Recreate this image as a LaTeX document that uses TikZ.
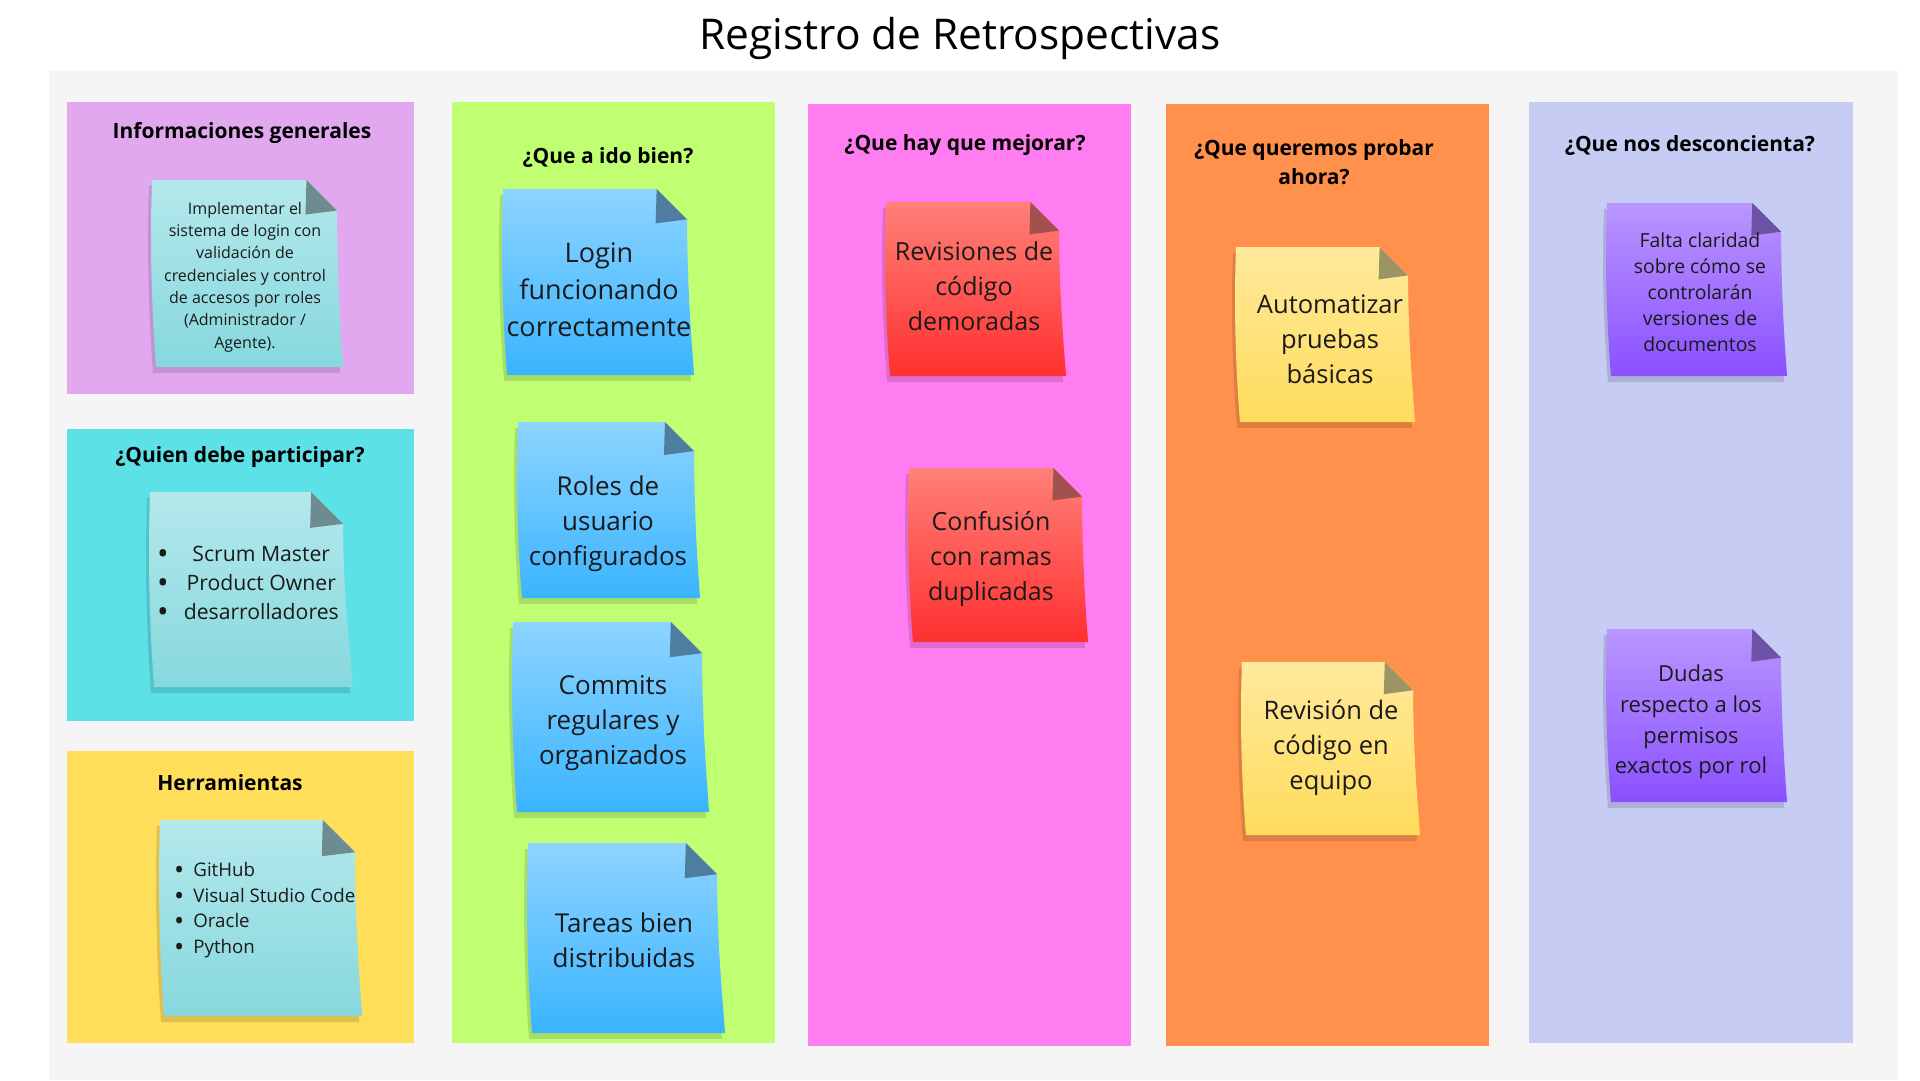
\documentclass[tikz,border=0pt]{standalone}
\usepackage{fontspec}
\setmainfont{Open Sans}
\definecolor{bgrey}{HTML}{F5F5F5}
\definecolor{pPurple}{HTML}{E1A8EF}
\definecolor{pCyan}{HTML}{5CE1E6}
\definecolor{pYellow}{HTML}{FFDE59}
\definecolor{pGreen}{HTML}{C1FF72}
\definecolor{pPink}{HTML}{FF7DF0}
\definecolor{pOrange}{HTML}{FF914D}
\definecolor{pLav}{HTML}{C6CCF4}
\definecolor{tealT}{HTML}{B4E8EC}
\definecolor{tealB}{HTML}{86D8DD}
\definecolor{tealF}{HTML}{6E8B8F}
\definecolor{blueT}{HTML}{8DD4FF}
\definecolor{blueB}{HTML}{3AB4FF}
\definecolor{blueF}{HTML}{4E7DA0}
\definecolor{redT}{HTML}{FF8078}
\definecolor{redB}{HTML}{FF3030}
\definecolor{redF}{HTML}{A2514F}
\definecolor{yelT}{HTML}{FFE99C}
\definecolor{yelB}{HTML}{FFDC5B}
\definecolor{yelF}{HTML}{9C9462}
\definecolor{purT}{HTML}{B996FF}
\definecolor{purB}{HTML}{8B50FF}
\definecolor{purF}{HTML}{6E52A6}
\definecolor{ink}{HTML}{1A1A1A}
\newcommand{\bul}{\raisebox{-0.17em}{\scalebox{1.45}{\textbullet}}}
% x, y, width, height, colour set, bottom-right overhang
\newcommand{\stickynote}[6]{%
  \pgfmathsetmacro\nf{0.165*#3}%
  \pgfmathsetmacro\xF{#1+#3-\nf}%
  \pgfmathsetmacro\xR{#1+#3}%
  \pgfmathsetmacro\yF{#2+\nf}%
  \pgfmathsetmacro\xBR{#1+#3+#6}%
  \pgfmathsetmacro\xBL{#1+4}%
  \pgfmathsetmacro\yB{#2+#4}%
  \pgfmathsetmacro\cRa{\yF+0.5*(\yB-\yF)}%
  \pgfmathsetmacro\cRb{\yB-0.2*(\yB-\yF)}%
  \pgfmathsetmacro\cLa{\yB-0.35*#4}%
  \pgfmathsetmacro\cLb{#2+0.3*#4}%
  \def\notepath{(#1,#2) -- (\xF,#2) -- (\xR,\yF) .. controls (\xR+0.5,\cRa) and (\xBR-2,\cRb) .. (\xBR,\yB) -- (\xBL,\yB) .. controls (#1-1,\cLa) and (#1-2,\cLb) .. (#1,#2) -- cycle}%
  \fill[black,opacity=0.13,shift={(-3,6)}] \notepath;
  \shade[top color=#5T,bottom color=#5B] \notepath;
  \fill[#5F] (\xF,#2) -- (\xR,\yF) -- (\xF-1,\yF+4) -- cycle;
}
\tikzset{
  head/.style={font=\fontsize{21}{29}\selectfont\bfseries, text=black, inner sep=0pt, align=center},
  ntext/.style={align=center, inner sep=0pt, text=ink},
  bluetext/.style={ntext, font=\fontsize{26}{35}\selectfont},
  redtext/.style={ntext, font=\fontsize{25}{35}\selectfont},
  yeltext/.style={ntext, font=\fontsize{25.5}{35}\selectfont},
}
\begin{document}
\begin{tikzpicture}[x=1pt,y=-1pt]
\useasboundingbox (0,0) rectangle (1920,1080);
\fill[white] (0,0) rectangle (1920,1080);
\fill[bgrey] (49,71) rectangle (1898,1080);
% panels
\fill[pPurple] (67,102) rectangle (414,394);
\fill[pCyan] (67,429) rectangle (414,721);
\fill[pYellow] (67,751) rectangle (414,1043);
\fill[pGreen] (452,102) rectangle (775,1043);
\fill[pPink] (808,104) rectangle (1131,1046);
\fill[pOrange] (1166,104) rectangle (1489,1046);
\fill[pLav] (1529,102) rectangle (1853,1043);
% title
\node[font=\fontsize{42.4}{50}\selectfont, text=black, inner sep=0pt] (title) at (960,38) {Registro de Retrospectivas};
% headings
\node[head] (h1) at (242,133) {Informaciones generales};
\node[head] (h2) at (240,457) {¿Quien debe participar?};
\node[head] (h3) at (230,783) {Herramientas};
\node[head] (h4) at (608,158) {¿Que a ido bien?};
\node[head] (h5) at (965,145) {¿Que hay que mejorar?};
\node[head] (h6) at (1314,162) {¿Que queremos probar\\ahora?};
\node[head] (h7) at (1690,146) {¿Que nos desconcienta?};
% notes
\stickynote{152}{180}{185}{187}{teal}{6}
\stickynote{150}{492}{193}{195}{teal}{10}
\stickynote{160}{820}{195}{196}{teal}{7}
\stickynote{503}{189}{184}{186}{blue}{7}
\stickynote{518}{422}{176}{176}{blue}{6}
\stickynote{513}{622}{189}{190}{blue}{7}
\stickynote{528}{843}{189}{190}{blue}{8}
\stickynote{886}{202}{173}{174}{red}{7}
\stickynote{909}{468}{173}{174}{red}{6}
\stickynote{1236}{247}{172}{175}{yel}{7}
\stickynote{1242}{662}{171}{173}{yel}{7}
\stickynote{1607}{203}{174}{173}{pur}{6}
\stickynote{1607}{629}{174}{173}{pur}{6}
% note texts
\node[ntext, font=\fontsize{16}{22.3}\selectfont] (info) at (245,277) {Implementar el\\sistema de login con\\validación de\\credenciales y control\\de accesos por roles\\(Administrador /\\Agente).};
\node[ntext, font=\fontsize{21.2}{29}\selectfont] (who) at (248,584.5) {\begin{tabular}{@{}c@{\hspace{15pt}}c@{}}\bul & Scrum Master\\ \bul & Product Owner\\ \bul & desarrolladores\end{tabular}};
\node[ntext, align=left, anchor=west, font=\fontsize{18.7}{25.7}\selectfont] (tools) at (174,910) {\bul\hspace{9pt}GitHub\\\bul\hspace{9pt}Visual Studio Code\\\bul\hspace{9pt}Oracle\\\bul\hspace{9pt}Python};
\node[bluetext, font=\fontsize{27}{37}\selectfont] (b1) at (599,290) {Login\\funcionando\\correctamente};
\node[bluetext] (b2) at (608,524) {Roles de\\usuario\\configurados};
\node[bluetext] (b3) at (613,723) {Commits\\regulares y\\organizados};
\node[bluetext] (b4) at (624,940) {Tareas bien\\distribuidas};
\node[redtext] (r1) at (974,286) {Revisiones de\\código\\demoradas};
\node[redtext] (r2) at (991,559) {Confusión\\con ramas\\duplicadas};
\node[yeltext] (y1) at (1330,339) {Automatizar\\pruebas\\básicas};
\node[yeltext] (y2) at (1331,748) {Revisión de\\código en\\equipo};
\node[ntext, font=\fontsize{19.4}{26}\selectfont] (u1) at (1700,292) {Falta claridad\\sobre cómo se\\controlarán\\versiones de\\documentos};
\node[ntext, font=\fontsize{22}{30.6}\selectfont] (u2) at (1691,722) {Dudas\\respecto a los\\permisos\\exactos por rol};
\end{tikzpicture}
\end{document}
